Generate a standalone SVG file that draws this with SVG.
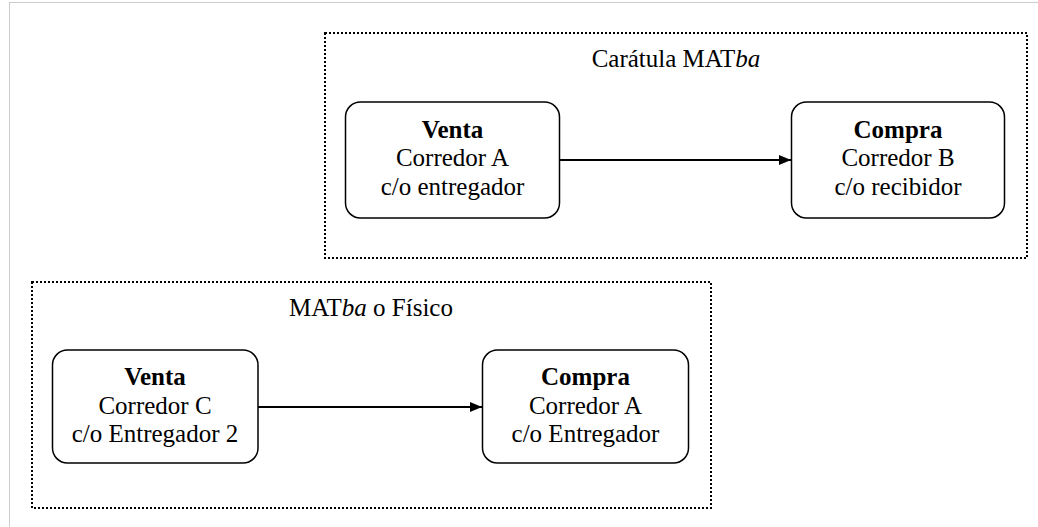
<svg xmlns="http://www.w3.org/2000/svg" width="1038" height="527" viewBox="0 0 1038 527">
<style>
  .frame { fill: none; stroke: #9a9a9a; stroke-width: 1; stroke-dasharray: 1 1; }
  .group { fill: none; stroke: #000; stroke-width: 2; stroke-dasharray: 2 2; }
  .node rect { fill: #fff; stroke: #000; stroke-width: 1.5; }
  text { font-family: 'Liberation Serif', 'Times New Roman', Times, serif; font-size: 25px; fill: #000; text-anchor: middle; }
  .b { font-weight: bold; }
  .i { font-style: italic; }
  .conn line { stroke: #000; stroke-width: 2; }
</style>
<defs>
  <marker id="arr" viewBox="0 0 12 10" refX="12" refY="5" markerWidth="12" markerHeight="10" markerUnits="userSpaceOnUse" orient="auto">
    <path d="M0,0 L12,5 L0,10 Z" fill="#000"/>
  </marker>
</defs>
<rect class="frame" x="9.5" y="2.5" width="1040" height="540"/>

<g id="group-caratula">
  <rect class="group" x="325" y="33" width="702" height="225"/>
  <text x="676" y="67">Carátula MAT<tspan class="i">ba</tspan></text>
</g>
<g id="group-fisico">
  <rect class="group" x="32" y="282" width="679" height="226"/>
  <text x="371" y="316">MAT<tspan class="i">ba</tspan> o Físico</text>
</g>

<g class="conn" id="connectors">
  <line x1="560" y1="160" x2="791" y2="160" marker-end="url(#arr)"/>
  <line x1="258" y1="407" x2="482" y2="407" marker-end="url(#arr)"/>
</g>

<g class="node" id="venta-a">
  <rect x="345.5" y="102" width="214" height="116" rx="15"/>
  <text x="452.5" y="137.5" class="b">Venta</text>
  <text x="452.5" y="166">Corredor A</text>
  <text x="452.5" y="194.5">c/o entregador</text>
</g>
<g class="node" id="compra-b">
  <rect x="791.5" y="102" width="213" height="116" rx="15"/>
  <text x="898" y="137.5" class="b">Compra</text>
  <text x="898" y="166">Corredor B</text>
  <text x="898" y="194.5">c/o recibidor</text>
</g>
<g class="node" id="venta-c">
  <rect x="52.5" y="350" width="205.5" height="113" rx="15"/>
  <text x="155" y="385" class="b">Venta</text>
  <text x="155" y="413.5">Corredor C</text>
  <text x="155" y="442">c/o Entregador 2</text>
</g>
<g class="node" id="compra-a">
  <rect x="482.5" y="350" width="206" height="113" rx="15"/>
  <text x="585.5" y="385" class="b">Compra</text>
  <text x="585.5" y="413.5">Corredor A</text>
  <text x="585.5" y="442">c/o Entregador</text>
</g>
</svg>
